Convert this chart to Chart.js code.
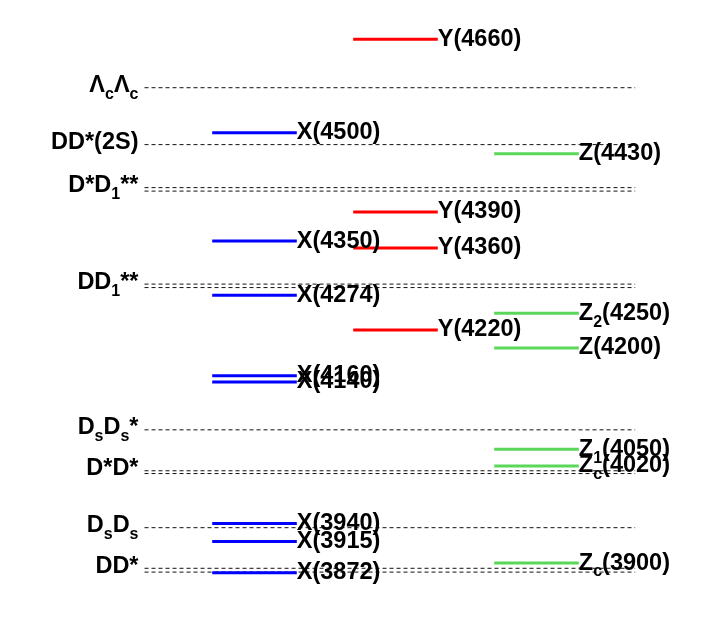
<!DOCTYPE html>
<html>
<head>
<meta charset="utf-8">
<script src="https://cdn.jsdelivr.net/npm/chart.js@4.4.1/dist/chart.umd.min.js"></script>
<style>
  body { margin: 0; background: #fff; }
  #wrap { width: 706px; height: 623px; position: relative; }
</style>
</head>
<body>
<div id="wrap"><canvas id="levels"></canvas></div>
<script>
// masses in MeV ("_" marks a one-char subscript)
const xNames = ['X(3872)', 'X(3915)', 'X(3940)', 'X(4140)', 'X(4160)', 'X(4274)', 'X(4350)', 'X(4500)'];
const xMasses = [3872, 3917, 3943, 4147, 4156, 4272, 4350, 4506];
const yNames = ['Y(4220)', 'Y(4360)', 'Y(4390)', 'Y(4660)'];
const yMasses = [4222, 4340, 4392, 4641];
const zNames = ['Z_c(3900)', 'Z_c(4020)', 'Z_1(4050)', 'Z(4200)', 'Z_2(4250)', 'Z(4430)'];
const zMasses = [3886, 4026, 4050, 4196, 4246, 4476];
const thresholdNames = ['DD*', 'D_sD_s', 'D*D*', 'D_sD_s*', 'DD_1**', 'D*D_1**', 'DD*(2S)', 'Λ_cΛ_c'];
const thresholdMasses = [[3873, 3878.5], [3937], [4015, 4019], [4078], [4283, 4288], [4422, 4427], [4489], [4571]];

const families = [
    { names: xNames, masses: xMasses, col: 1, color: '#0000ff' },
    { names: yNames, masses: yMasses, col: 2, color: '#ff0000' },
    { names: zNames, masses: zMasses, col: 3, color: '#5ad75a' }
];
const halfWidth = 0.3;
const threshFrom = 0.22;
const threshTo = 3.7;

let datasets = [];
families.forEach(f => {
    f.masses.forEach((m, i) => {
        datasets.push({
            label: f.names[i],
            data: [{ x: f.col - halfWidth, y: m }, { x: f.col + halfWidth, y: m }],
            borderColor: f.color,
            borderWidth: 3,
            pointRadius: 0
        });
    });
});
thresholdMasses.forEach((ms, i) => {
    ms.forEach(m => {
        datasets.push({
            label: thresholdNames[i],
            data: [{ x: threshFrom, y: m }, { x: threshTo, y: m }],
            borderColor: '#111',
            borderWidth: 1,
            borderDash: [4, 3],
            pointRadius: 0
        });
    });
});

function parseLabel(s) {
    const segs = [];
    for (let i = 0; i < s.length; i++) {
        if (s[i] === '_') {
            segs.push({ t: s[i + 1], sub: true });
            i++;
        } else {
            const last = segs[segs.length - 1];
            if (last && !last.sub) last.t += s[i];
            else segs.push({ t: s[i], sub: false });
        }
    }
    return segs;
}

const mainFont = 'bold 23.5px "Liberation Sans", Arial, sans-serif';
const subFont = 'bold 16px "Liberation Sans", Arial, sans-serif';

function drawRich(ctx, text, x, y, align) {
    const segs = parseLabel(text);
    let w = 0;
    segs.forEach(s => {
        ctx.font = s.sub ? subFont : mainFont;
        s.w = ctx.measureText(s.t).width;
        w += s.w;
    });
    let cx = align === 'right' ? x - w : x;
    segs.forEach(s => {
        ctx.font = s.sub ? subFont : mainFont;
        ctx.fillText(s.t, cx, s.sub ? y + 9 : y);
        cx += s.w;
    });
}

const labelPlugin = {
    id: 'levelLabels',
    afterDatasetsDraw(chart) {
        const ctx = chart.ctx;
        const xs = chart.scales.x;
        const ys = chart.scales.y;
        ctx.save();
        ctx.fillStyle = '#000';
        ctx.textBaseline = 'middle';
        families.forEach(f => {
            f.masses.forEach((m, i) => {
                drawRich(ctx, f.names[i], xs.getPixelForValue(f.col + halfWidth), ys.getPixelForValue(m), 'left');
            });
        });
        thresholdMasses.forEach((ms, i) => {
            const top = Math.max(...ms);
            drawRich(ctx, thresholdNames[i], xs.getPixelForValue(threshFrom) - 6, ys.getPixelForValue(top) - 2, 'right');
        });
        ctx.restore();
    }
};

new Chart(document.getElementById('levels'), {
    type: 'line',
    data: { datasets },
    options: {
        responsive: true,
        maintainAspectRatio: false,
        animation: false,
        layout: { padding: { left: 113.5, right: 28.5, top: 19, bottom: 28 } },
        plugins: { legend: { display: false }, tooltip: { enabled: false } },
        scales: {
            x: { type: 'linear', min: 0, max: 4, display: false },
            y: { type: 'linear', min: 3840, max: 4670, display: false }
        }
    },
    plugins: [labelPlugin]
});
</script>
</body>
</html>
